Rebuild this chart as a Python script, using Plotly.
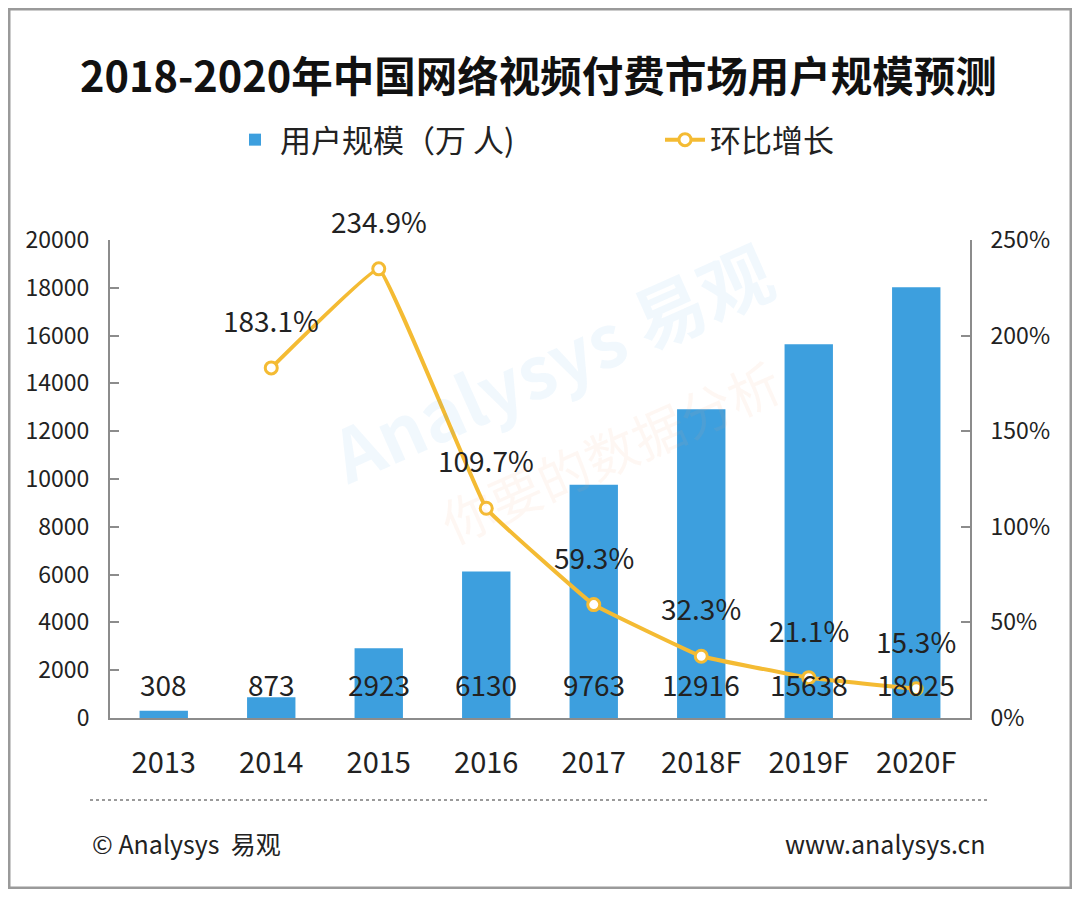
import plotly.graph_objects as go

# 数据
years = ["2013", "2014", "2015", "2016", "2017", "2018F", "2019F", "2020F"]
users = [308, 873, 2923, 6130, 9763, 12916, 15638, 18025]  # 万人
growth_years = ["2014", "2015", "2016", "2017", "2018F", "2019F", "2020F"]
growth = [183.1, 234.9, 109.7, 59.3, 32.3, 21.1, 15.3]  # %

left_ticks = [0, 2000, 4000, 6000, 8000, 10000, 12000, 14000, 16000, 18000, 20000]
right_ticks = [0, 50, 100, 150, 200, 250]
right_labels = ["0%", "50%", "100%", "150%", "200%", "250%"]

FONT = "Noto Sans CJK SC"
BLUE = "#3d9fde"
GOLD = "#f4bb33"
TXT = "#222222"

# page has an 8px body margin, so figure is 16px smaller and offset by 8
OFF = 8
W, H = 1080 - 2 * OFF, 897 - 2 * OFF
# plot area in reference pixels: x 110-970, y 240-718
PL, PR, PT, PB = 110, 970, 240, 718
PW, PH = PR - PL, PB - PT


def px_x(p):
    return (p - PL) / PW


def px_y(p):
    return (PB - p) / PH


fig = go.Figure()

fig.add_trace(go.Bar(
    x=years, y=users, name="用户规模（万 人)",
    marker=dict(color=BLUE, line=dict(width=0)),
    width=0.45, legend="legend",
))

fig.add_trace(go.Scatter(
    x=growth_years, y=growth, name="环比增长", yaxis="y2",
    mode="lines+markers", legend="legend2",
    line=dict(color=GOLD, width=4, shape="spline", smoothing=0.2),
    marker=dict(symbol="circle", size=12, color="white",
                line=dict(color=GOLD, width=3)),
))

annotations = []
# 柱形数值
for yr, v in zip(years, users):
    annotations.append(dict(
        x=years.index(yr), y=1420, xref="x", yref="y", text=str(v),
        showarrow=False, yanchor="middle",
        font=dict(family=FONT, size=28, color=TXT),
    ))
# 增长率标签
for yr, g in zip(growth_years, growth):
    annotations.append(dict(
        x=years.index(yr), y=g, xref="x", yref="y2", text=f"{g}%",
        showarrow=False, yanchor="middle", yshift=48,
        font=dict(family=FONT, size=28, color=TXT),
    ))

# 标题
annotations.append(dict(
    x=px_x(538), y=px_y(74), xref="paper", yref="paper", yanchor="middle",
    text="<b>2018-2020年中国网络视频付费市场用户规模预测</b>", showarrow=False,
    font=dict(family=FONT, size=41.5, color="#111111"),
))
# 水印
annotations.append(dict(
    x=px_x(550), y=px_y(360), xref="paper", yref="paper", yanchor="middle",
    text="<b>Analysys 易观</b>", showarrow=False, textangle=-24,
    font=dict(family=FONT, size=72, color="rgba(61,159,222,0.07)"),
))
annotations.append(dict(
    x=px_x(610), y=px_y(450), xref="paper", yref="paper", yanchor="middle",
    text="你要的数据分析", showarrow=False, textangle=-24,
    font=dict(family=FONT, size=52, color="rgba(240,170,120,0.09)"),
))
# 页脚
annotations.append(dict(
    x=px_x(90), y=px_y(843), xref="paper", yref="paper",
    xanchor="left", yanchor="middle",
    text="© Analysys  易观", showarrow=False,
    font=dict(family=FONT, size=25, color=TXT),
))
annotations.append(dict(
    x=px_x(988), y=px_y(843), xref="paper", yref="paper",
    xanchor="right", yanchor="middle",
    text="www.analysys.cn", showarrow=False,
    font=dict(family=FONT, size=25, color=TXT),
))

shapes = [
    # 外框
    dict(type="rect", xref="paper", yref="paper",
         x0=px_x(OFF + 1), x1=px_x(OFF + W - 1),
         y0=px_y(OFF + H - 1), y1=px_y(OFF + 1),
         line=dict(color="#9a9a9a", width=3), layer="below"),
    # 页脚虚线
    dict(type="line", xref="paper", yref="paper",
         x0=px_x(90), x1=px_x(990), y0=px_y(800), y1=px_y(800),
         line=dict(color="#9a9a9a", width=2, dash="dot")),
]

legend_common = dict(
    orientation="h", yanchor="middle", xanchor="left",
    font=dict(family=FONT, size=31, color=TXT),
    itemwidth=40, bgcolor="rgba(0,0,0,0)",
)

fig.update_layout(
    width=W, height=H,
    margin=dict(l=PL - OFF, r=W - (PR - OFF), t=PT - OFF, b=H - (PB - OFF)),
    paper_bgcolor="white", plot_bgcolor="white",
    font=dict(family=FONT, color=TXT),
    showlegend=True,
    legend=dict(x=px_x(230), y=px_y(140), **legend_common),
    legend2=dict(x=px_x(660), y=px_y(140), **legend_common),
    xaxis=dict(
        type="category", range=[-0.5, 7.5], showline=True,
        linecolor="#8c8c8c", linewidth=2,
        ticks="", showgrid=False, ticklabelstandoff=18,
        tickfont=dict(family=FONT, size=29, color=TXT),
    ),
    yaxis=dict(
        range=[0, 20000], tickvals=left_ticks, tickformat="d",
        showline=True, linecolor="#8c8c8c", linewidth=2,
        ticks="inside", ticklen=9, tickcolor="#8c8c8c", tickwidth=2,
        showgrid=False, zeroline=False, ticklabelstandoff=14,
        tickfont=dict(family=FONT, size=23, color=TXT),
    ),
    yaxis2=dict(
        range=[0, 250], tickvals=right_ticks, ticktext=right_labels,
        overlaying="y", side="right",
        showline=True, linecolor="#8c8c8c", linewidth=2,
        ticks="inside", ticklen=9, tickcolor="#8c8c8c", tickwidth=2,
        showgrid=False, zeroline=False, ticklabelstandoff=14,
        tickfont=dict(family=FONT, size=23, color=TXT),
    ),
    annotations=annotations,
    shapes=shapes,
)

fig.write_html("out.html")
